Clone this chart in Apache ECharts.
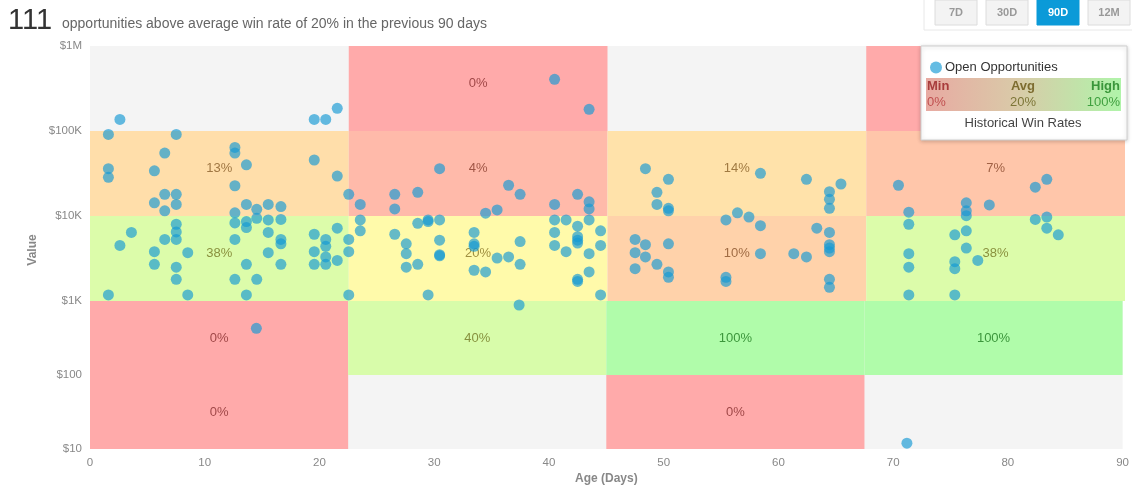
<!DOCTYPE html>
<html>
<head>
<meta charset="utf-8">
<script src="https://cdn.jsdelivr.net/npm/echarts@6/dist/echarts.min.js"></script>
<style>
  html, body { margin: 0; padding: 0; background: #fff; }
  #chart { width: 1132px; height: 489px; }
</style>
</head>
<body>
<div id="chart"></div>
<script>
// win-rate grid: columns are age ranges, rows are value decades
const colEdges = [0, 22.5, 45, 67.5, 90];
const rowEdges = [1e6, 1e5, 1e4, 1e3, 1e2, 10];
const winRates = [
  [null, 0, null, 0],
  [13, 4, 14, 7],
  [38, 20, 10, 38],
  [0, 40, 100, 100],
  [0, null, 0, null],
];

const yTickValues = [10, 100, 1000, 10000, 100000, 1000000];
const yTickLabels = ["$10", "$100", "$1K", "$10K", "$100K", "$1M"];

const ranges = ["7D", "30D", "90D", "12M"];
const activeRange = "90D";
const aboveAvgCount = 111;
const scaleNames = ["Min", "Avg", "High"];
const scaleRates = ["0%", "20%", "100%"];

// [age in days, value in $]
const opportunities = [
  [2.6, 137000], [1.6, 91000], [7.5, 91000], [6.5, 55000], [12.6, 64000], [12.6, 55000],
  [13.6, 40000], [1.6, 36000], [1.6, 28500], [5.6, 34000], [12.6, 22700], [6.5, 18000],
  [7.5, 18000], [5.6, 14300], [6.5, 11500], [7.5, 13700], [13.6, 13700], [14.5, 12000],
  [15.5, 13700], [16.6, 12900], [12.6, 10900], [14.5, 9400], [15.5, 9000], [16.6, 9100],
  [12.6, 8300], [13.6, 8600], [13.6, 7300], [7.5, 8000], [7.5, 6500], [7.5, 5300],
  [6.5, 5300], [3.6, 6400], [2.6, 4500], [5.6, 3800], [5.6, 2700], [8.5, 3700],
  [7.5, 2500], [7.5, 1800], [12.6, 5300], [1.6, 1180], [8.5, 1180], [13.6, 1180],
  [12.6, 1800], [14.5, 1800], [13.6, 2700], [15.5, 6400], [15.5, 3700], [16.6, 5300],
  [16.6, 4700], [16.6, 2700], [14.5, 428], [19.5, 137000], [20.5, 137000], [21.5, 185000],
  [19.5, 45600], [21.5, 29500], [22.5, 18000], [19.5, 6100], [20.5, 5300], [20.5, 4400],
  [21.5, 7200], [22.5, 5300], [19.5, 3800], [20.5, 3300], [22.5, 3800], [19.5, 2700],
  [20.5, 2700], [21.5, 3000], [22.5, 1180],
  [40.4, 405000], [43.4, 180000], [30.4, 36000], [36.4, 23000], [37.4, 18000], [26.5, 18000],
  [28.5, 19000], [23.5, 13700], [26.5, 12100], [34.4, 10800], [35.4, 11800], [40.4, 13700],
  [42.4, 18000], [43.4, 14700], [43.4, 12100], [23.5, 9000], [23.5, 6700], [28.5, 8200],
  [29.4, 9000], [29.4, 8600], [30.4, 9000], [26.5, 6100], [27.5, 4700], [27.5, 3600],
  [27.5, 2500], [28.5, 2700], [30.4, 5200], [30.4, 3500], [30.4, 3400], [29.4, 1180],
  [33.4, 6400], [33.4, 4400], [33.4, 4700], [33.4, 2300], [34.4, 2200], [35.4, 3200],
  [36.4, 3300], [37.4, 5000], [37.4, 2700], [37.4, 883], [40.4, 9000], [41.4, 9000],
  [40.4, 6400], [40.4, 4500], [41.4, 3800], [42.4, 7600], [42.4, 5700], [42.4, 4800],
  [42.4, 5200], [42.4, 1800], [42.4, 1700], [43.4, 9000], [43.4, 3600], [43.4, 2200],
  [44.4, 6700], [44.4, 4500], [44.4, 1180],
  [48.3, 36000], [50.3, 27000], [49.3, 19000], [49.3, 13700], [50.3, 12300], [50.3, 11500],
  [47.4, 5300], [47.4, 3700], [47.4, 2400], [48.3, 4600], [48.3, 3300], [49.3, 2700],
  [50.3, 4700], [50.3, 2200], [50.3, 1900], [55.3, 9000], [56.3, 10900], [57.3, 9700],
  [58.3, 7700], [58.3, 31800], [58.3, 3600], [55.3, 1900], [55.3, 1700], [62.3, 27000],
  [65.3, 23800], [64.3, 19300], [64.3, 15700], [64.3, 12300], [63.2, 7200], [64.3, 6400],
  [64.3, 4600], [64.3, 4200], [64.3, 3800], [61.2, 3600], [62.3, 3300], [64.3, 1800],
  [64.3, 1450],
  [70.3, 23000], [71.2, 11100], [71.2, 8000], [71.2, 3600], [71.2, 2500], [71.2, 1180],
  [71.2, 12], [75.2, 6000], [75.2, 2900], [75.2, 2400], [75.2, 1180], [76.2, 14300],
  [76.2, 11500], [76.2, 10100], [76.2, 6700], [76.2, 4200], [77.2, 3000], [78.2, 13500],
  [82.2, 21800], [83.2, 27000], [82.2, 9100], [83.2, 9700], [83.2, 7200], [84.2, 6000],
];

const FONT = "'Liberation Sans', Arial, sans-serif";
const fillStops = [[0, [255, 170, 170]], [20, [255, 250, 170]], [40, [216, 252, 170]], [100, [176, 252, 170]]];
const textStops = [[0, [160, 72, 72]], [20, [160, 144, 64]], [100, [60, 150, 60]]];

function mix(stops, rate) {
  let i = 0;
  while (i < stops.length - 2 && rate > stops[i + 1][0]) i++;
  const [r0, c0] = stops[i];
  const [r1, c1] = stops[i + 1];
  const t = Math.min(1, Math.max(0, (rate - r0) / (r1 - r0)));
  const c = c0.map((v, k) => Math.round(v + (c1[k] - v) * t));
  return "rgb(" + c.join(",") + ")";
}

function yLabel(v) {
  const idx = yTickValues.findIndex((t) => Math.abs(Math.log10(t) - Math.log10(v)) < 0.01);
  return idx >= 0 ? yTickLabels[idx] : "";
}

function bands(rowFrom, rowTo, dy) {
  const out = [];
  for (let r = rowFrom; r < rowTo; r++) {
    for (let c = 0; c < colEdges.length - 1; c++) {
      const rate = winRates[r][c];
      if (rate == null) continue;
      out.push([
        {
          xAxis: colEdges[c],
          yAxis: rowEdges[r],
          itemStyle: { color: mix(fillStops, rate) },
          label: { show: true, position: "inside", formatter: rate + "%", color: mix(textStops, rate), fontSize: 13, fontFamily: FONT, offset: [0, dy] },
        },
        { xAxis: colEdges[c + 1], yAxis: rowEdges[r + 1] },
      ]);
    }
  }
  return out;
}

const upperPts = opportunities.filter((p) => p[1] >= 1000);
const lowerPts = opportunities.filter((p) => p[1] < 1000);

const axisLabelStyle = { color: "#888", fontSize: 11.5, fontFamily: FONT };
const pointStyle = { color: "rgba(20,152,212,0.82)" };

// buttons in the top-right corner
const buttonEls = [
  { type: "rect", shape: { x: 924, y: -1, width: 212, height: 31 }, style: { fill: "#fff", stroke: "#e8e8e8" }, z: 10 },
];
ranges.forEach((name, i) => {
  const active = name === activeRange;
  const x = 935 + i * 51;
  buttonEls.push({
    type: "rect", z: 11,
    shape: { x: x, y: 0, width: 42, height: 25 },
    style: { fill: active ? "#0b9ad8" : "#f3f3f3", stroke: active ? "#0b9ad8" : "#dcdcdc" },
  });
  buttonEls.push({
    type: "text", z: 12, x: x + 21, y: 13,
    style: { text: name, fill: active ? "#fff" : "#999", font: "bold 11px " + FONT, textAlign: "center", textVerticalAlign: "middle" },
  });
});

// legend box with the win-rate scale
const legendEls = [
  { type: "rect", z: 10, shape: { x: 921, y: 46, width: 206, height: 94 },
    style: { fill: "#fff", stroke: "#cfcfcf", lineWidth: 1, shadowBlur: 4, shadowColor: "rgba(0,0,0,0.2)", shadowOffsetY: 1 } },
  { type: "rect", z: 11, shape: { x: 926, y: 78, width: 195, height: 33 },
    style: { fill: new echarts.graphic.LinearGradient(0, 0, 1, 0, [
      { offset: 0, color: "#e8aaa2" }, { offset: 0.45, color: "#dac9a8" }, { offset: 1, color: "#b0f4aa" },
    ]) } },
];
[1050, 1053, 1056].forEach((y) => {
  legendEls.push({ type: "line", z: 11, shape: { x1: 1101, y1: y, x2: 1121, y2: y }, style: { stroke: "#d8d8d8", lineWidth: 1 } });
});
const scaleX = [927, 1023, 1120];
const scaleAlign = ["left", "center", "right"];
const scaleNameColors = ["#a83c3c", "#7d6c30", "#3a963a"];
const scaleRateColors = ["#c05050", "#7d7638", "#40a040"];
scaleNames.forEach((name, i) => {
  legendEls.push({ type: "text", z: 12, x: scaleX[i], y: 86,
    style: { text: name, fill: scaleNameColors[i], font: "bold 13px " + FONT, textAlign: scaleAlign[i], textVerticalAlign: "middle" } });
  legendEls.push({ type: "text", z: 12, x: scaleX[i], y: 102,
    style: { text: scaleRates[i], fill: scaleRateColors[i], font: "13px " + FONT, textAlign: scaleAlign[i], textVerticalAlign: "middle" } });
});
legendEls.push({ type: "text", z: 12, x: 1023, y: 123,
  style: { text: "Historical Win Rates", fill: "#444", font: "13px " + FONT, textAlign: "center", textVerticalAlign: "middle" } });

const titleEls = [
  { type: "text", x: 8, y: 21, style: { text: String(aboveAvgCount), fill: "#333", font: "29px " + FONT, textVerticalAlign: "middle" } },
  { type: "text", x: 62, y: 24, style: { text: "opportunities above average win rate of " + scaleRates[1] + " in the previous 90 days", fill: "#666", font: "14px " + FONT, textVerticalAlign: "middle" } },
  { type: "text", x: 33, y: 250, rotation: Math.PI / 2, style: { text: "Value", fill: "#888", font: "bold 12px " + FONT, textAlign: "center", textVerticalAlign: "middle" } },
];

const chart = echarts.init(document.getElementById("chart"));
chart.setOption({
  animation: false,
  textStyle: { fontFamily: FONT },
  grid: [
    { left: 90, right: 7, top: 46, height: 255, show: true, backgroundColor: "#f4f4f4", borderWidth: 0 },
    { left: 90, right: 7, top: 301, height: 148, show: true, backgroundColor: "#f4f4f4", borderWidth: 0 },
  ],
  xAxis: [
    { gridIndex: 0, type: "value", min: 0, max: 90, interval: 10, show: false },
    {
      gridIndex: 1, type: "value", min: 0, max: 90, interval: 10,
      axisLine: { show: false }, axisTick: { show: false }, splitLine: { show: false },
      axisLabel: Object.assign({ margin: 8 }, axisLabelStyle),
      name: "Age (Days)", nameLocation: "middle", nameGap: 24,
      nameTextStyle: { color: "#888", fontSize: 12, fontWeight: "bold", fontFamily: FONT },
    },
  ],
  yAxis: [
    {
      gridIndex: 0, type: "log", logBase: 10, min: 1000, max: 1e6,
      axisLine: { show: false }, axisTick: { show: false }, splitLine: { show: false },
      axisLabel: Object.assign({ margin: 8, padding: [4, 0, 0, 0], formatter: yLabel }, axisLabelStyle),
    },
    {
      gridIndex: 1, type: "log", logBase: 10, min: 10, max: 1000,
      axisLine: { show: false }, axisTick: { show: false }, splitLine: { show: false },
      axisLabel: Object.assign({ margin: 8, padding: [4, 0, 0, 0], showMaxLabel: false, formatter: (v) => (v >= 999 ? "" : yLabel(v)) }, axisLabelStyle),
    },
  ],
  legend: {
    data: ["Open Opportunities"], selectedMode: false, z: 20,
    left: 925, top: 56, icon: "circle", itemWidth: 12, itemHeight: 12, itemGap: 4,
    textStyle: { color: "#333", fontSize: 13, fontFamily: FONT, padding: [0, 0, 0, -2] },
  },
  series: [
    { name: "bandsUpper", type: "scatter", xAxisIndex: 0, yAxisIndex: 0, data: [], z: 1, silent: true,
      markArea: { silent: true, data: bands(0, 3, -5) } },
    { name: "bandsLower", type: "scatter", xAxisIndex: 1, yAxisIndex: 1, data: [], z: 1, silent: true,
      markArea: { silent: true, data: bands(3, 5, 0) } },
    { name: "Open Opportunities", type: "scatter", xAxisIndex: 0, yAxisIndex: 0, z: 3,
      symbolSize: 11, itemStyle: pointStyle, data: upperPts, clip: false },
    { name: "Open Opportunities", type: "scatter", xAxisIndex: 1, yAxisIndex: 1, z: 3,
      symbolSize: 11, itemStyle: pointStyle, data: lowerPts, clip: false },
  ],
  graphic: [].concat(titleEls, buttonEls, legendEls),
});
</script>
</body>
</html>
